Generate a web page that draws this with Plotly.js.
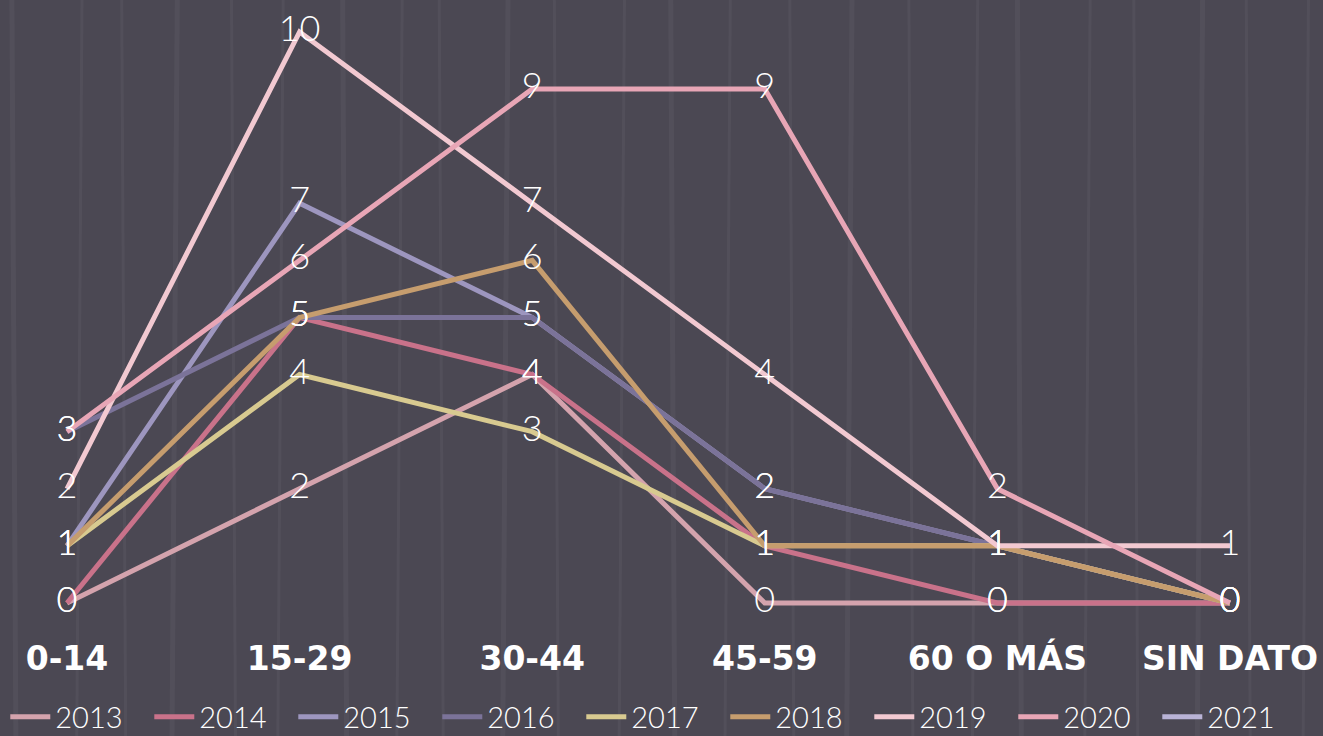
<!DOCTYPE html>
<html>
<head>
<meta charset="utf-8">
<script src="https://cdn.plot.ly/plotly-3.0.1.min.js"></script>
<style>html,body{margin:0;padding:0;background:#4b4853;}#chart{width:1323px;height:736px;}</style>
</head>
<body>
<div id="chart"></div>
<script>
const categories = ['0-14', '15-29', '30-44', '45-59', '60 O MÁS', 'SIN DATO'];
const years = ['2013', '2014', '2015', '2016', '2017', '2018', '2019', '2020', '2021'];
const v2013 = [0, 2, 4, 0, 0, 0];
const v2014 = [0, 5, 4, 1, 0, 0];
const v2015 = [1, 7, 5, 2, 1, 0];
const v2016 = [3, 5, 5, 2, 1, 0];
const v2017 = [1, 4, 3, 1, 1, 0];
const v2018 = [1, 5, 6, 1, 1, 0];
const v2019 = [2, 10, 7, 4, 1, 1];
const v2020 = [3, 6, 9, 9, 2, 0];
const v2021 = [null, null, null, null, null, null];
const seriesValues = [v2013, v2014, v2015, v2016, v2017, v2018, v2019, v2020, v2021];
const colors = ['#d4a3ad', '#c9728a', '#9d96bf', '#7b7399', '#d8ca90', '#c69d6e', '#f2c9d1', '#e8a6b6', '#b9b3d6'];

const xs = categories.map((c, i) => i);
const traces = [];
seriesValues.forEach((vals, k) => {
  traces.push({
    x: xs, y: vals, name: years[k], type: 'scatter', mode: 'lines',
    line: {color: colors[k], width: 5}, hoverinfo: 'skip'
  });
});
seriesValues.forEach((vals, k) => {
  traces.push({
    x: xs, y: vals, type: 'scatter', mode: 'text', showlegend: false,
    text: vals.map(v => v === null ? '' : String(v)),
    textposition: 'middle center',
    textfont: {color: '#ffffff', family: 'Lato', size: 36, weight: 300},
    cliponaxis: false, hoverinfo: 'skip'
  });
});

// decorative faint vertical streaks of the background texture
const streakX = [0.012, 0.058, 0.095, 0.13, 0.178, 0.21, 0.262, 0.3, 0.335, 0.38, 0.422, 0.468, 0.51, 0.548, 0.6, 0.64, 0.69, 0.735, 0.772, 0.82, 0.86, 0.905, 0.945, 0.985];
const shapes = streakX.map((sx, i) => ({
  type: 'line', xref: 'paper', yref: 'paper', layer: 'below',
  x0: sx, x1: sx + (i % 2 ? 0.004 : -0.003), y0: -0.22, y1: 1,
  line: {color: 'rgba(255,255,255,0.045)', width: i % 3 ? 3 : 5}
}));

const layout = {
  width: 1323, height: 736,
  paper_bgcolor: '#4b4853', plot_bgcolor: 'rgba(0,0,0,0)',
  margin: {l: 0, r: 0, t: 0, b: 130, autoexpand: false},
  showlegend: true,
  shapes: shapes,
  xaxis: {
    range: [-0.288, 5.4], tickvals: xs, ticktext: categories,
    showgrid: false, zeroline: false, showline: false, ticks: '',
    tickfont: {color: '#ffffff', family: 'DejaVu Sans', size: 33, weight: 'bold'},
    ticklabelstandoff: 30, fixedrange: true
  },
  yaxis: {
    range: [-0.053, 10.56], showgrid: false, zeroline: false, showline: false,
    showticklabels: false, ticks: '', fixedrange: true
  },
  legend: {
    orientation: 'h', x: 0.004, xanchor: 'left', y: -0.183, yanchor: 'middle',
    font: {color: '#ffffff', family: 'Lato', size: 29, weight: 300},
    entrywidth: 89, entrywidthmode: 'pixels', itemwidth: 40,
    bgcolor: 'rgba(0,0,0,0)', tracegroupgap: 0
  }
};

Plotly.newPlot('chart', traces, layout, {displayModeBar: false, staticPlot: true});
</script>
</body>
</html>
